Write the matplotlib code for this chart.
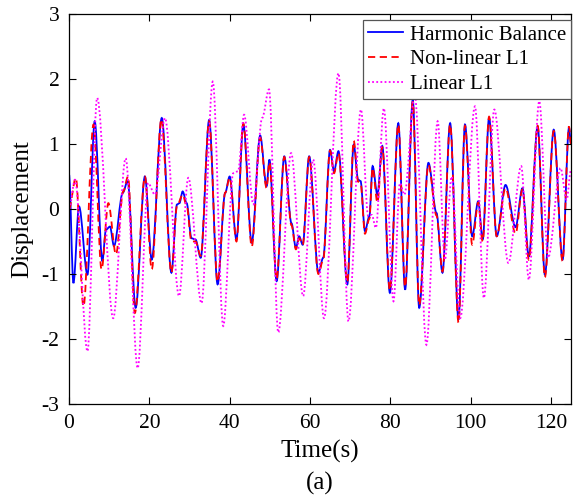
import matplotlib
matplotlib.use("Agg")
import matplotlib.pyplot as plt
from matplotlib.path import Path
from matplotlib.patches import PathPatch
from matplotlib.lines import Line2D

plt.rcParams["font.family"] = ["Liberation Serif", "DejaVu Serif"]
plt.rcParams["axes.unicode_minus"] = False

# turning points: (time s, displacement)
hb_t = [0, 1.1, 2.5, 4.6, 6.4, 8.3, 9.2, 10.2, 11.2, 13.4, 14.6, 16.6, 18.9, 20.6,
        23.1, 25.5, 26.9, 27.5, 28.3, 29.3, 30.5, 31.5, 32.8, 34.9, 37.0, 38.9, 40.0,
        41.7, 43.4, 45.5, 47.6, 49.2, 49.9, 51.7, 53.6, 55.4, 56.5, 57.3, 58.2, 59.8,
        62.1, 63.3, 65.0, 66.0, 67.1, 69.3, 70.9, 72.0, 72.6, 73.7, 74.8, 75.6, 76.8,
        78.0, 79.9, 82.0, 83.7, 85.6, 87.2, 89.5, 91.5, 93.0, 94.9, 97.0, 98.6, 100.4,
        101.9, 103.0, 104.6, 106.5, 108.7, 111.2, 112.9, 114.5, 116.7, 118.5, 120.7,
        122.9, 124.5, 125.0]
hb_y = [0.53, -1.14, 0.04, -1.01, 1.35, -0.80, -0.32, -0.27, -0.57, 0.25, 0.43, -1.52,
        0.50, -0.78, 1.40, -0.98, 0.07, 0.09, 0.27, 0.09, -0.45, -0.47, -0.75, 1.37,
        -1.16, 0.25, 0.50, -0.47, 1.30, -0.52, 1.13, 0.35, 0.76, -1.11, 0.81, -0.22,
        -0.60, -0.42, -0.55, 0.81, -0.98, -0.75, 0.91, 0.58, 0.89, -1.16, 0.99, 0.45,
        0.43, -0.34, -0.11, 0.66, 0.22, 0.97, -1.29, 1.32, -1.24, 1.68, -1.52, 0.71,
        -0.06, -0.98, 1.32, -1.70, 1.30, -0.42, 0.12, -0.47, 1.40, -0.42, 0.37, -0.28,
        0.32, -0.73, 1.27, -1.01, 1.22, -0.78, 1.25, 1.00]

nl_t = [0, 1.7, 3.6, 6.1, 8.1, 9.8, 11.7, 13.5, 14.7, 16.4, 18.9, 20.6, 23.0, 25.5,
        26.9, 28.3, 29.3, 30.5, 31.5, 32.8, 34.9, 37.0, 38.9, 40.0, 41.7, 43.4, 45.5,
        47.6, 49.2, 49.9, 51.7, 53.6, 55.4, 56.5, 57.3, 58.2, 59.8, 62.1, 63.3, 65.0,
        66.0, 67.1, 69.3, 70.9, 72.0, 72.6, 73.7, 74.8, 75.6, 76.8, 78.0, 79.9, 82.0,
        83.7, 85.6, 87.2, 89.5, 91.5, 93.0, 94.9, 97.0, 98.6, 100.4, 101.9, 103.0,
        104.6, 106.5, 108.7, 111.2, 112.9, 114.5, 116.7, 118.5, 120.7, 122.9, 124.5,
        125.0]
nl_y = [0.00, 0.48, -1.50, 1.30, -0.93, 0.09, -0.70, 0.27, 0.50, -1.60, 0.50, -0.93,
        1.38, -0.98, 0.05, 0.22, 0.05, -0.50, -0.50, -0.72, 1.35, -1.12, 0.25, 0.48,
        -0.50, 1.32, -0.58, 1.10, 0.32, 0.72, -1.08, 0.80, -0.25, -0.62, -0.45, -0.55,
        0.80, -1.00, -0.78, 0.90, 0.55, 0.86, -1.12, 1.05, 0.42, 0.40, -0.38, -0.15,
        0.63, 0.10, 0.95, -1.25, 1.30, -1.20, 1.65, -1.48, 0.68, -0.10, -0.96, 1.30,
        -1.75, 1.28, -0.55, 0.10, -0.50, 1.42, -0.42, 0.32, -0.38, 0.30, -0.78, 1.28,
        -1.05, 1.20, -0.80, 1.27, 1.00]

lin_t = [0, 1.5, 4.6, 7.0, 11.0, 14.1, 17.1, 19.7, 21.4, 23.9, 27.4, 29.7, 33.0, 35.8,
         38.4, 40.9, 42.1, 43.6, 45.9, 48.1, 49.8, 52.1, 55.3, 58.3, 60.8, 63.5, 67.1,
         69.6, 72.7, 74.5, 75.4, 76.4, 78.4, 80.8, 82.4, 83.5, 86.1, 89.0, 91.8, 93.6,
         95.3, 97.4, 101.1, 103.3, 105.9, 109.4, 112.6, 114.5, 117.1, 119.3, 122.4,
         123.9, 125.0]
lin_y = [0.00, 0.45, -2.19, 1.71, -1.68, 0.78, -2.45, 0.40, 0.22, 1.40, -1.34, 0.48,
         -1.45, 1.96, -1.80, 0.55, 0.58, 1.45, 0.07, 1.40, 1.84, -1.90, 0.86, -1.34,
         0.76, -1.68, 2.09, -1.73, 1.53, -0.11, -0.09, -0.29, 1.55, -1.42, 0.40, 0.22,
         1.75, -2.09, 1.35, -0.78, 0.50, -1.68, 1.58, -1.37, 1.53, -0.83, 0.66, -1.09,
         1.66, -0.75, 0.63, 0.14, 0.60]

x_ticks = [0, 20, 40, 60, 80, 100, 120]
y_ticks = [-3, -2, -1, 0, 1, 2, 3]


def smooth_path(ts, ys):
    # cubic bezier between turning points, flat tangent at each point
    verts = [(ts[0], ys[0])]
    codes = [Path.MOVETO]
    for i in range(1, len(ts)):
        dt = (ts[i] - ts[i - 1]) / 3.0
        verts += [(ts[i - 1] + dt, ys[i - 1]), (ts[i] - dt, ys[i]), (ts[i], ys[i])]
        codes += [Path.CURVE4] * 3
    return Path(verts, codes)


fig = plt.figure(figsize=(5.78, 5.0), dpi=100)
ax = fig.add_axes([69 / 578, 96 / 500, 502 / 578, 390 / 500])

styles = [
    ("Harmonic Balance", hb_t, hb_y, dict(color="#0000ff", linestyle="-", linewidth=1.3)),
    ("Non-linear L1", nl_t, nl_y, dict(color="#ff0000", linestyle=(0, (4, 2.5)), linewidth=1.3)),
    ("Linear L1", lin_t, lin_y, dict(color="#ff00ff", linestyle=(0, (1, 1.3)), linewidth=1.3)),
]
handles = []
for label, ts, ys, st in styles:
    ax.add_patch(PathPatch(smooth_path(ts, ys), fill=False, edgecolor=st["color"],
                           linestyle=st["linestyle"], linewidth=st["linewidth"]))
    handles.append(Line2D([], [], **st, label=label))

ax.set_xlim(0, 125)
ax.set_ylim(-3, 3)
ax.set_xticks(x_ticks)
ax.set_yticks(y_ticks)
ax.tick_params(direction="in", length=5, width=0.8, top=True, right=True,
               labelsize=15.5, pad=7)
for sp in ax.spines.values():
    sp.set_linewidth(0.9)

ax.set_xlabel("Time(s)", fontsize=18, labelpad=5)
ax.set_ylabel("Displacement", fontsize=18, labelpad=6)
fig.text(ax.get_position().x0 + ax.get_position().width / 2, 17 / 500, "(a)",
         ha="center", va="center", fontsize=18)

leg = ax.legend(handles=handles, loc="upper right", bbox_to_anchor=(1.0, 0.985),
                borderaxespad=0, fontsize=15, fancybox=False, framealpha=1,
                edgecolor="#555555", handlelength=1.7, handletextpad=0.3,
                labelspacing=0.25, borderpad=0.25)
leg.get_frame().set_linewidth(0.9)

fig.savefig("out.png", dpi=100)
